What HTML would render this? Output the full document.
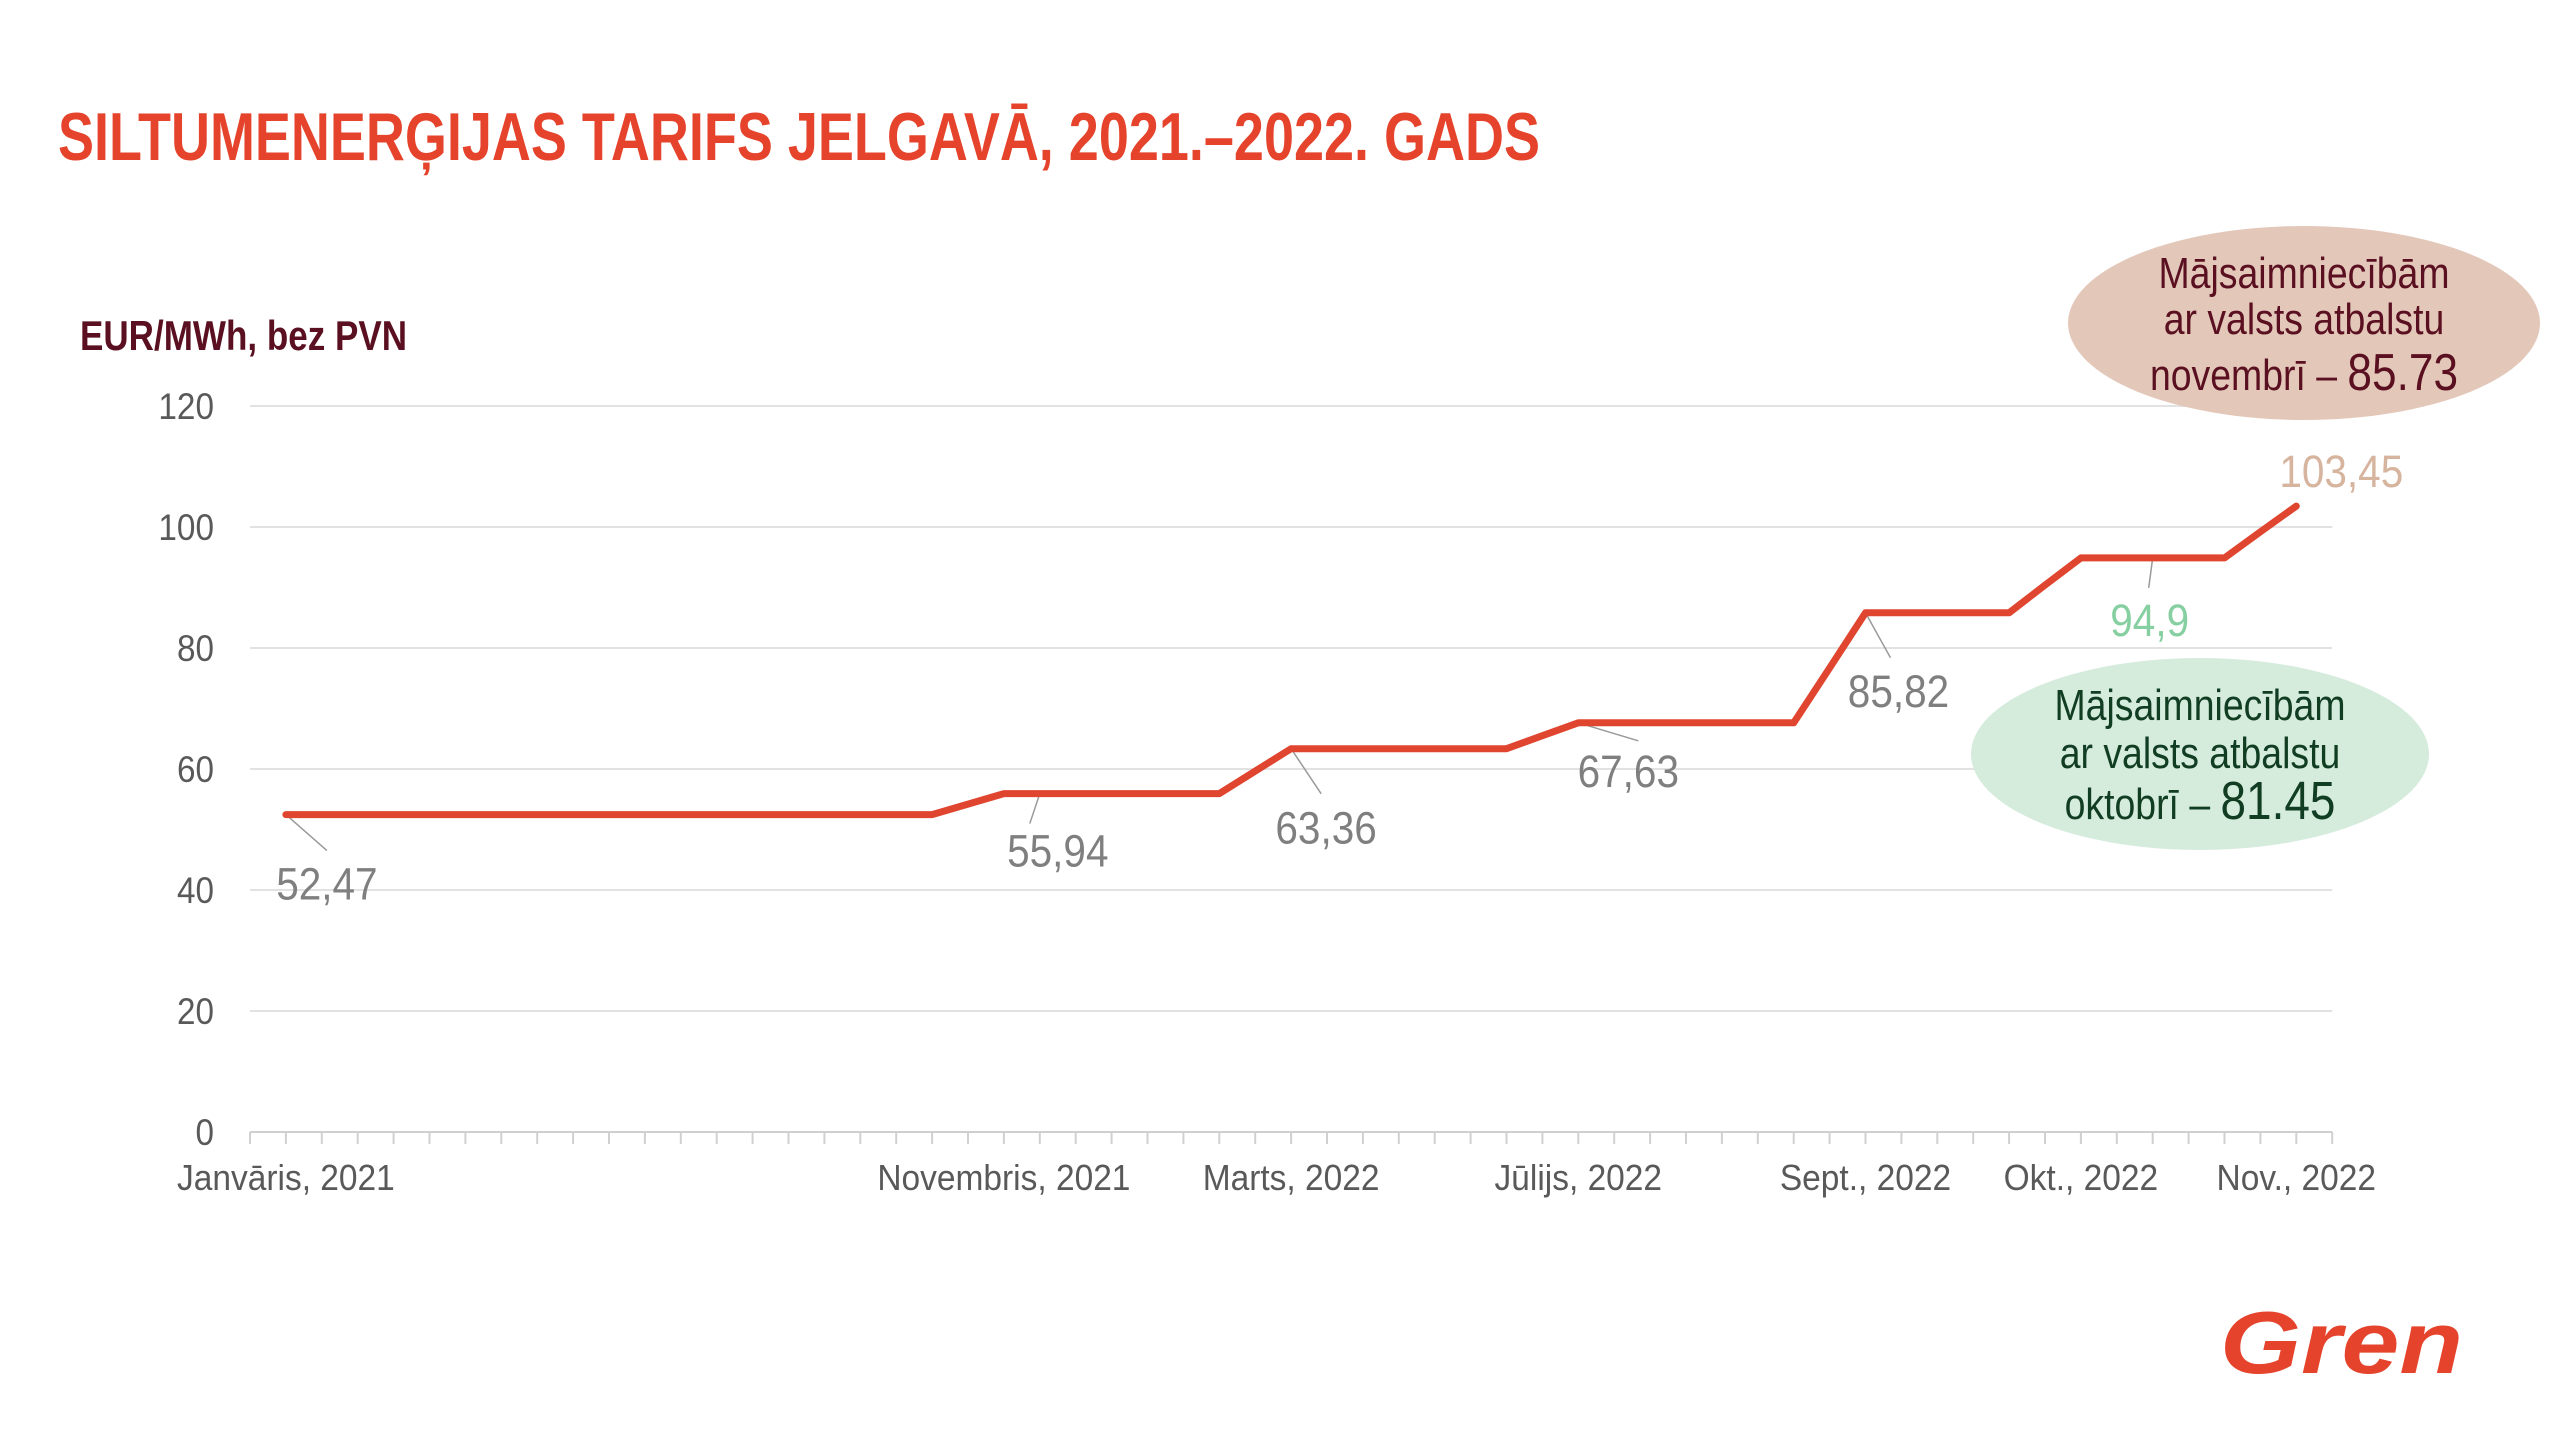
<!DOCTYPE html>
<html><head><meta charset="utf-8">
<style>
html,body{margin:0;padding:0;background:#fff;}
svg{display:block;}
text{font-family:"Liberation Sans",sans-serif;}
</style></head>
<body>
<svg id="chart" width="2560" height="1440" viewBox="0 0 2560 1440" xmlns="http://www.w3.org/2000/svg">
  <text x="58" y="160" font-size="68" font-weight="bold" fill="#e5432c" textLength="1482" lengthAdjust="spacingAndGlyphs">SILTUMENERĢIJAS TARIFS JELGAVĀ,  2021.–2022. GADS</text>
  <text x="80" y="350" font-size="42" font-weight="bold" fill="#5a1020" textLength="327" lengthAdjust="spacingAndGlyphs">EUR/MWh, bez PVN</text>
  <g id="grid"></g>
  <g id="yticks"></g>
  <g id="xaxis"></g>
  <g id="leaders"></g>
  <path id="line" fill="none" stroke="#e04530" stroke-width="7" stroke-linejoin="round" stroke-linecap="round"/>
  <g id="dlabels"></g>

  <g>
    <ellipse cx="2304" cy="323" rx="236" ry="97" fill="#e3c8ba"/>
    <text class="cd" x="2304" y="288" font-size="44" fill="#5a1020" text-anchor="middle">Mājsaimniecībām</text>
    <text class="cd" x="2304" y="334" font-size="44" fill="#5a1020" text-anchor="middle">ar valsts atbalstu</text>
    <text class="cd" x="2304" y="390" font-size="44" fill="#5a1020" text-anchor="middle">novembrī –  <tspan font-size="52">85.73</tspan></text>
  </g>
  <g>
    <ellipse cx="2200" cy="754" rx="229" ry="96" fill="#d5ecdd"/>
    <text class="cd" x="2200" y="720" font-size="44" fill="#113d22" text-anchor="middle">Mājsaimniecībām</text>
    <text class="cd" x="2200" y="768" font-size="44" fill="#113d22" text-anchor="middle">ar valsts atbalstu</text>
    <text class="cd" x="2200" y="819" font-size="44" fill="#113d22" text-anchor="middle">oktobrī –  <tspan font-size="54">81.45</tspan></text>
  </g>
  <text x="2220" y="1373" font-size="88" font-weight="bold" font-style="italic" fill="#e5432c" textLength="243" lengthAdjust="spacingAndGlyphs">Gren</text>
</svg>
<script>
// data
const values = [null,52.47,52.47,52.47,52.47,52.47,52.47,52.47,52.47,52.47,52.47,52.47,52.47,52.47,52.47,52.47,52.47,52.47,52.47,52.47,54.2,55.94,55.94,55.94,55.94,55.94,55.94,55.94,59.65,63.36,63.36,63.36,63.36,63.36,63.36,63.36,65.5,67.63,67.63,67.63,67.63,67.63,67.63,67.63,76.7,85.82,85.82,85.82,85.82,85.82,90.4,94.9,94.9,94.9,94.9,94.9,99.2,103.45];
const xLabelIdx = [1,21,29,37,45,51,57];
const xLabels = ["Janvāris, 2021","Novembris, 2021","Marts, 2022","Jūlijs, 2022","Sept., 2022","Okt., 2022","Nov., 2022"];
const yTicks = [0,20,40,60,80,100,120];
const dataLabelIdx = [1,22,29,37,45,53,57];
const dataLabelText = ["52,47","55,94","63,36","67,63","85,82","94,9","103,45"];

const NS="http://www.w3.org/2000/svg";
const X0=250, STEP=35.9, NB=58, Y0=1132, YPX=726/120;
const xs=i=>X0+i*STEP;
const ys=v=>Y0-v*YPX;
function mk(tag,attrs,parent){const e=document.createElementNS(NS,tag);for(const k in attrs)e.setAttribute(k,attrs[k]);parent.appendChild(e);return e;}
function condense(t,f){const w=t.getComputedTextLength();t.setAttribute('textLength',(w*f).toFixed(1));t.setAttribute('lengthAdjust','spacingAndGlyphs');}

const grid=document.getElementById('grid'), yt=document.getElementById('yticks');
yTicks.forEach(v=>{
  const l=mk('line',{x1:X0,x2:X0+NB*STEP,y1:ys(v),y2:ys(v),stroke:v===0?'#cfcfcf':'#e2e2e2','stroke-width':2},grid);
  
  
  const t=mk('text',{x:214,y:ys(v)+13,'font-size':37,fill:'#595959','text-anchor':'end'},yt);
  t.textContent=v;
  
  
  condense(t,0.9);
});
const xa=document.getElementById('xaxis');
for(let i=0;i<=NB;i++){
  const tk=mk('line',{x1:xs(i),x2:xs(i),y1:Y0,y2:Y0+12,stroke:'#d0d0d0','stroke-width':2},xa);
  
  
}
xLabelIdx.forEach((idx,k)=>{
  const t=mk('text',{x:xs(idx),y:1190,'font-size':36,fill:'#595959','text-anchor':'middle'},xa);
  t.textContent=xLabels[k];
  
  
  condense(t,0.93);
});
let d='';
values.forEach((v,i)=>{if(v==null)return;d+=(d?'L':'M')+xs(i).toFixed(1)+','+ys(v).toFixed(1);});
document.getElementById('line').setAttribute('d',d);

const offs=[[41,85],[18,73],[35,95],[50,64],[33,94],[-3,78],[45,-19]];
const leadEnd=[[41,36],[-10,30],[30,45],[60,18],[25,45],[-4,30],null];
const cols=['#7f7f7f','#7f7f7f','#7f7f7f','#7f7f7f','#7f7f7f','#86cfa0','#d6b49e'];
const lg=document.getElementById('leaders'), dl=document.getElementById('dlabels');
dataLabelIdx.forEach((idx,k)=>{
  const px=xs(idx), py=ys(values[idx]);
  if(leadEnd[k]){
    const ln=mk('line',{x1:px,y1:py,x2:px+leadEnd[k][0],y2:py+leadEnd[k][1],stroke:'#9a9a9a','stroke-width':1.5},lg);
    
    
  }
  const t=mk('text',{x:px+offs[k][0],y:py+offs[k][1],'font-size':45,fill:cols[k],'text-anchor':'middle'},dl);
  t.textContent=dataLabelText[k];
  
  
  condense(t,0.9);
});
document.querySelectorAll('text.cd').forEach(t=>condense(t,0.85));
</script>
</body></html>
